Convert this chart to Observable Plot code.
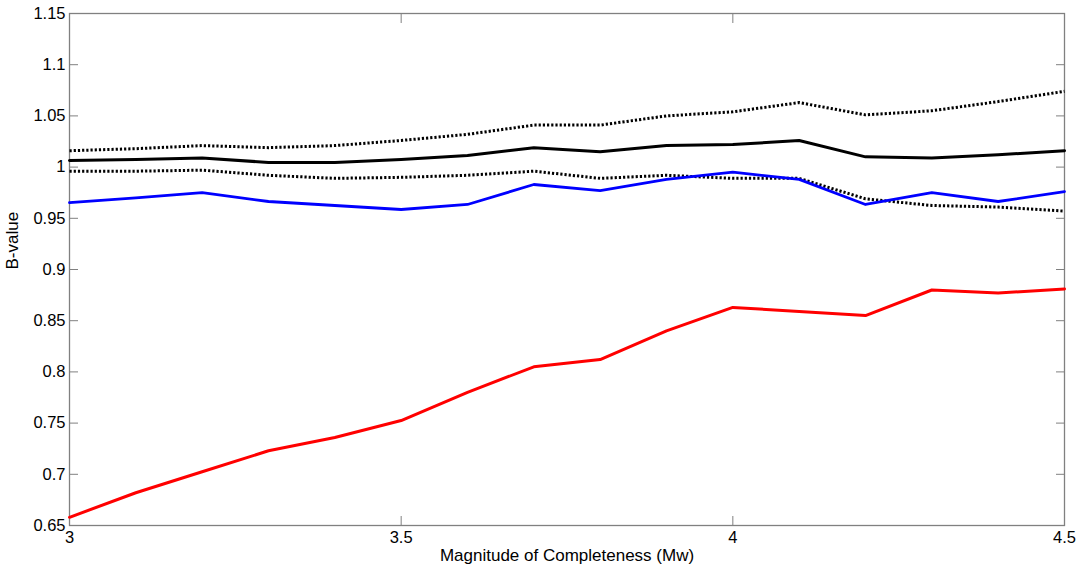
<!DOCTYPE html>
<html>
<head>
<meta charset="utf-8">
<script src="https://cdn.jsdelivr.net/npm/d3@7"></script>
<script src="https://cdn.jsdelivr.net/npm/@observablehq/plot@0.6"></script>
<style>
  html, body { margin: 0; padding: 0; background: #fff; }
  svg { display: block; }
</style>
</head>
<body>
<div id="chart"></div>
<script>
const magnitudes = [3.0, 3.1, 3.2, 3.3, 3.4, 3.5, 3.6, 3.7, 3.8, 3.9, 4.0, 4.1, 4.2, 4.3, 4.4, 4.5];
const redSeries = [0.658, 0.682, 0.7025, 0.723, 0.736, 0.7525, 0.780, 0.805, 0.812, 0.840, 0.863, 0.859, 0.855, 0.880, 0.877, 0.881];
const blueSeries = [0.9654, 0.970, 0.975, 0.9664, 0.9625, 0.9586, 0.9635, 0.983, 0.977, 0.988, 0.995, 0.988, 0.9635, 0.975, 0.9664, 0.976];
const blackMean = [1.0064, 1.0075, 1.009, 1.0045, 1.0045, 1.0075, 1.0113, 1.019, 1.015, 1.021, 1.022, 1.026, 1.010, 1.009, 1.012, 1.016];
const blackUpper = [1.016, 1.018, 1.021, 1.019, 1.021, 1.026, 1.032, 1.041, 1.041, 1.050, 1.054, 1.063, 1.051, 1.055, 1.064, 1.074];
const blackLower = [0.996, 0.996, 0.997, 0.992, 0.989, 0.990, 0.992, 0.996, 0.989, 0.992, 0.989, 0.989, 0.969, 0.9625, 0.961, 0.957];

const xTicks = [3, 3.5, 4, 4.5];
const xTickLabels = ["3", "3.5", "4", "4.5"];
const yTicks = [0.65, 0.7, 0.75, 0.8, 0.85, 0.9, 0.95, 1.0, 1.05, 1.1, 1.15];
const yTickLabels = ["0.65", "0.7", "0.75", "0.8", "0.85", "0.9", "0.95", "1", "1.05", "1.1", "1.15"];
const xLabel = "Magnitude of Completeness (Mw)";
const yLabel = "B-value";

const toRows = (vals) => magnitudes.map((m, i) => ({x: m, y: vals[i]}));
const axisColor = "#808080";
const fmtX = d => xTickLabels[xTicks.indexOf(d)];
const fmtY = d => yTickLabels[yTicks.findIndex(t => Math.abs(t - d) < 1e-9)];

const chart = Plot.plot({
  width: 1080,
  height: 571,
  marginLeft: 69,
  marginRight: 16,
  marginTop: 13,
  marginBottom: 46,
  style: {fontFamily: "'Liberation Sans', Arial, sans-serif", fontSize: "16px", color: "#000", background: "#fff"},
  x: {domain: [3, 4.5]},
  y: {domain: [0.65, 1.15]},
  marks: [
    // tick labels
    Plot.axisY(yTicks, {anchor: "left", tickSize: 0, tickPadding: 4, tickFormat: fmtY, label: null, fill: "#000", fontSize: 16.5}),
    Plot.axisX(xTicks, {anchor: "bottom", tickSize: 0, tickPadding: 6, tickFormat: fmtX, label: null, fill: "#000", fontSize: 16.5}),
    // inward ticks on all sides
    Plot.axisY(yTicks, {anchor: "left", tickSize: 9, dx: 9, text: null, label: null, stroke: axisColor}),
    Plot.axisY(yTicks, {anchor: "right", tickSize: 9, dx: -9, text: null, label: null, stroke: axisColor}),
    Plot.axisX(xTicks, {anchor: "bottom", tickSize: 9, dy: -9, text: null, label: null, stroke: axisColor}),
    Plot.axisX(xTicks, {anchor: "top", tickSize: 9, dy: 9, text: null, label: null, stroke: axisColor}),
    Plot.frame({stroke: axisColor, strokeWidth: 1.3}),
    // series
    Plot.line(toRows(blackUpper), {x: "x", y: "y", stroke: "#000", strokeWidth: 3, strokeDasharray: "2.2,2", strokeLinecap: "butt", strokeLinejoin: "miter"}),
    Plot.line(toRows(blackMean), {x: "x", y: "y", stroke: "#000", strokeWidth: 3}),
    Plot.line(toRows(blackLower), {x: "x", y: "y", stroke: "#000", strokeWidth: 3, strokeDasharray: "2.2,2", strokeLinecap: "butt", strokeLinejoin: "miter"}),
    Plot.line(toRows(blueSeries), {x: "x", y: "y", stroke: "#0000ff", strokeWidth: 2.8}),
    Plot.line(toRows(redSeries), {x: "x", y: "y", stroke: "#ff0000", strokeWidth: 3}),
    // axis titles
    Plot.text([xLabel], {frameAnchor: "bottom", dy: 35, text: d => d, fill: "#000", fontSize: 17}),
    Plot.text([yLabel], {frameAnchor: "left", dx: -57, rotate: -90, text: d => d, fill: "#000", fontSize: 17})
  ]
});
document.getElementById("chart").appendChild(chart);
</script>
</body>
</html>
